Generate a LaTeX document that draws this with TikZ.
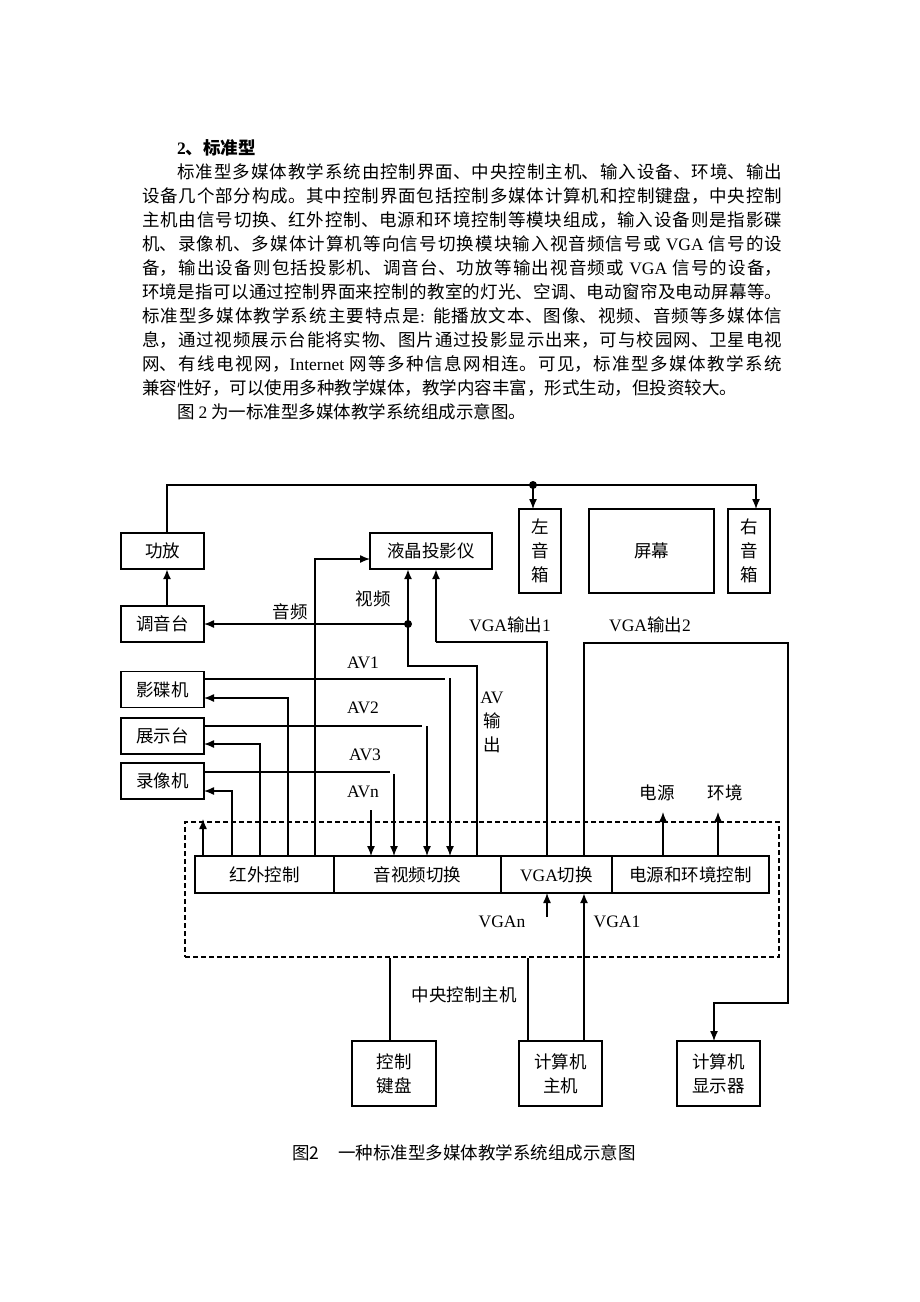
\documentclass[tikz,border=0pt]{standalone}
\usepackage{fontspec}
\setmainfont{Noto Sans CJK SC}
\newfontfamily\latfont{Liberation Serif}
\newcommand\lat[1]{{\latfont #1}}
\usetikzlibrary{arrows.meta,positioning}
\XeTeXlinebreaklocale "zh"
\XeTeXlinebreakskip=0pt plus 2pt minus 0.5pt
\newcommand\dgfont{\fontsize{17.5}{24}\selectfont}
\tikzset{
  box/.style={
    draw,
    line width = 1.3pt,
    inner sep = 0pt,
    outer sep = 0pt,
    align = center,
    font = \dgfont
  },
  dashbox/.style={
    draw,
    line width = 1.2pt,
    dash pattern = on 5pt off 3pt,
    inner sep = 0pt
  },
  wire/.style={
    line width = 1.3pt
  },
  arr/.style={
    wire,
    -{Latex[length=10pt,width=8pt]}
  },
  heavy/.style={
    line width = 2pt
  },
  lbl/.style={
    inner sep = 0pt,
    font = \dgfont
  },
  para/.style={
    text width = 640pt,
    align = justify,
    inner sep = 0pt,
    font = \fontsize{17.5}{24}\selectfont
  },
  capt/.style={
    inner sep = 0pt,
    font = \fontsize{17.5}{24}\selectfont
  }
}

\begin{document}
\begin{tikzpicture}[x=1pt,y=-1pt]
  \fill[white] (0,0) rectangle (920,1302);
  \useasboundingbox (0,0) rectangle (920,1302);

  % text above the figure
  \node[para, anchor=base west] (body) at (142,154.5) {\tolerance=9999\relax
\hspace*{35pt}{\bfseries{\latfont\bfseries 2}、标准型}\par
\hspace*{35pt}标准型多媒体教学系统由控制界面、中央控制主机、输入设备、环境、输出\linebreak%
设备几个部分构成。其中控制界面包括控制多媒体计算机和控制键盘，中央控制\linebreak%
主机由信号切换、红外控制、电源和环境控制等模块组成，输入设备则是指影碟\linebreak%
机、录像机、多媒体计算机等向信号切换模块输入视音频信号或 \lat{VGA} 信号的设\linebreak%
备，输出设备则包括投影机、调音台、功放等输出视音频或 \lat{VGA} 信号的设备，\linebreak%
环境是指可以通过控制界面来控制的教室的灯光、空调、电动窗帘及电动屏幕等。\linebreak%
标准型多媒体教学系统主要特点是\lat{: }能播放文本、图像、视频、音频等多媒体信\linebreak%
息，通过视频展示台能将实物、图片通过投影显示出来，可与校园网、卫星电视\linebreak%
网、有线电视网，\lat{Internet} 网等多种信息网相连。可见，标准型多媒体教学系统\linebreak%
兼容性好，可以使用多种教学媒体，教学内容丰富，形式生动，但投资较大。\par
\hspace*{35pt}图 \lat{2} 为一标准型多媒体教学系统组成示意图。};

  % boxes
  \node[box, minimum width=83pt, minimum height=36pt] (gf) at (162.5,551) {功放};
  \node[box, minimum width=83pt, minimum height=36pt] (tyt) at (162.5,624) {调音台};
  \node[box, minimum width=122pt, minimum height=36pt] (pj) at (431,551) {液晶投影仪};
  \node[box, minimum width=42pt, minimum height=84pt] (lsp) at (540,551) {左\\音\\箱};
  \node[box, minimum width=125pt, minimum height=84pt] (scr) at (651.5,551) {屏幕};
  \node[box, minimum width=42pt, minimum height=84pt] (rsp) at (749,551) {右\\音\\箱};
  \node[box, minimum width=83pt, minimum height=36pt] (ydj) at (162.5,689.5) {影碟机};
  \node[box, minimum width=83pt, minimum height=36pt] (zst) at (162.5,736) {展示台};
  \node[box, minimum width=83pt, minimum height=36pt] (lxj) at (162.5,781) {录像机};

  \node[dashbox, minimum width=594pt, minimum height=135pt] (cch) at (482,889.5) {};
  \node[box, minimum width=139pt, minimum height=37pt] (ir) at (264.5,874.5) {红外控制};
  \node[box, minimum width=167pt, minimum height=37pt, right=0pt of ir] (avs) {音视频切换};
  \node[box, minimum width=111pt, minimum height=37pt, right=0pt of avs] (vgas) {\lat{VGA}切换};
  \node[box, minimum width=157pt, minimum height=37pt, right=0pt of vgas] (pec) {电源和环境控制};

  \node[box, minimum width=84pt, minimum height=65pt] (kb) at (394,1073.5) {控制\\键盘};
  \node[box, minimum width=83pt, minimum height=65pt] (host) at (560.5,1073.5) {计算机\\主机};
  \node[box, minimum width=83pt, minimum height=65pt] (mon) at (718.5,1073.5) {计算机\\显示器};

  % speaker bus
  \coordinate (bus) at (533,485);
  \coordinate (busr) at (756,485);
  \coordinate (gfup) at (167,485);
  \draw[wire] ([xshift=4.5pt]gf.north) -- (gfup) -- (bus);
  \draw[arr] (bus) -- (busr) -- (rsp.north -| busr);
  \draw[arr] (bus) -- (lsp.north -| bus);
  \fill (bus) circle (4pt);
  \draw[arr, heavy] ([xshift=4.5pt]tyt.north) -- ([xshift=4.5pt]gf.south);

  % AV output
  \coordinate (avdot) at (408,624);
  \coordinate (avo) at (477,666);
  \draw[arr] (avdot) -- (tyt.east);
  \draw[arr, heavy] (avdot) -- (pj.south -| avdot);
  \draw[wire] (avs.north -| avo) -- (avo) -| (avdot);
  \fill (avdot) circle (4pt);

  % VGA outputs
  \coordinate (vo1) at (547,642);
  \coordinate (vo1p) at (436,642);
  \draw[wire] (vgas.north -| vo1) -- (vo1) -- (vo1p);
  \draw[arr, heavy] (vo1p) -- (pj.south -| vo1p);
  \coordinate (vo2) at (584,643);
  \coordinate (vo2r) at (788,643);
  \coordinate (vo2d) at (788,1003);
  \coordinate (vo2m) at (714,1003);
  \draw[arr] (vgas.north -| vo2) -- (vo2) -- (vo2r) -- (vo2d) -- (vo2m) -- (mon.north -| vo2m);

  % VGA inputs
  \coordinate (vgan) at (547,917);
  \draw[arr] (vgan) -- (vgas.south -| vgan);
  \draw[arr, heavy] (host.north -| vo2) -- (vgas.south -| vo2);
  \coordinate (hl) at (528,1000);
  \draw[wire] (host.north -| hl) -- (cch.south -| hl);
  \coordinate (kl) at (390,1000);
  \draw[wire] (kb.north -| kl) -- (cch.south -| kl);

  % power and environment
  \coordinate (pw) at (663,812);
  \coordinate (env) at (718,812);
  \draw[arr] (pec.north -| pw) -- (pw);
  \draw[arr] (pec.north -| env) -- (env);

  % infrared control
  \coordinate (irup) at (203,819);
  \coordinate (ir1) at (232,791);
  \coordinate (ir2) at (260,744);
  \coordinate (ir3) at (288,698);
  \coordinate (ir4) at (315,559);
  \draw[arr] (ir.north -| irup) -- (irup);
  \draw[arr] (ir.north -| ir1) -- (ir1) -- (ir1 -| lxj.east);
  \draw[arr] (ir.north -| ir2) -- (ir2) -- (ir2 -| zst.east);
  \draw[arr] (ir.north -| ir3) -- (ir3) -- (ir3 -| ydj.east);
  \draw[arr] (ir.north -| ir4) -- (ir4) -- (ir4 -| pj.west);

  % AV inputs
  \coordinate (av1) at (445,679);
  \coordinate (av1d) at (450,678);
  \coordinate (av2) at (422,726);
  \coordinate (av2d) at (427,726);
  \coordinate (av3) at (390,772);
  \coordinate (av3d) at (394,774);
  \coordinate (avn) at (371,810);
  \draw[wire] (av1 -| ydj.east) -- (av1);
  \draw[wire] (av2 -| zst.east) -- (av2);
  \draw[wire] (av3 -| lxj.east) -- (av3);
  \draw[arr] (av1d) -- (avs.north -| av1d);
  \draw[arr] (av2d) -- (avs.north -| av2d);
  \draw[arr] (av3d) -- (avs.north -| av3d);
  \draw[arr] (avn) -- (avs.north -| avn);

  % labels
  \node[lbl] (laudio) at (290,612) {音频};
  \node[lbl] (lvideo) at (373,599) {视频};
  \node[lbl] (lvo1) at (510,625) {\lat{VGA}输出\lat{1}};
  \node[lbl] (lvo2) at (650,625) {\lat{VGA}输出\lat{2}};
  \node[lbl] (lav1) at (363,663) {\lat{AV1}};
  \node[lbl] (lav2) at (363,708) {\lat{AV2}};
  \node[lbl] (lav3) at (365,755) {\lat{AV3}};
  \node[lbl] (lavn) at (363,792) {\lat{AVn}};
  \node[lbl, align=center] (lavo) at (492,722) {\lat{AV}\\输\\出};
  \node[lbl] (lpw) at (657,793) {电源};
  \node[lbl] (lenv) at (725,793) {环境};
  \node[lbl] (lvgan) at (502,922) {\lat{VGAn}};
  \node[lbl] (lvga1) at (617,922) {\lat{VGA1}};
  \node[lbl] (lcc) at (464,995) {中央控制主机};

  \node[capt, anchor=west] (cap) at (292,1153) {图2\hspace{19pt}一种标准型多媒体教学系统组成示意图};
\end{tikzpicture}
\end{document}
